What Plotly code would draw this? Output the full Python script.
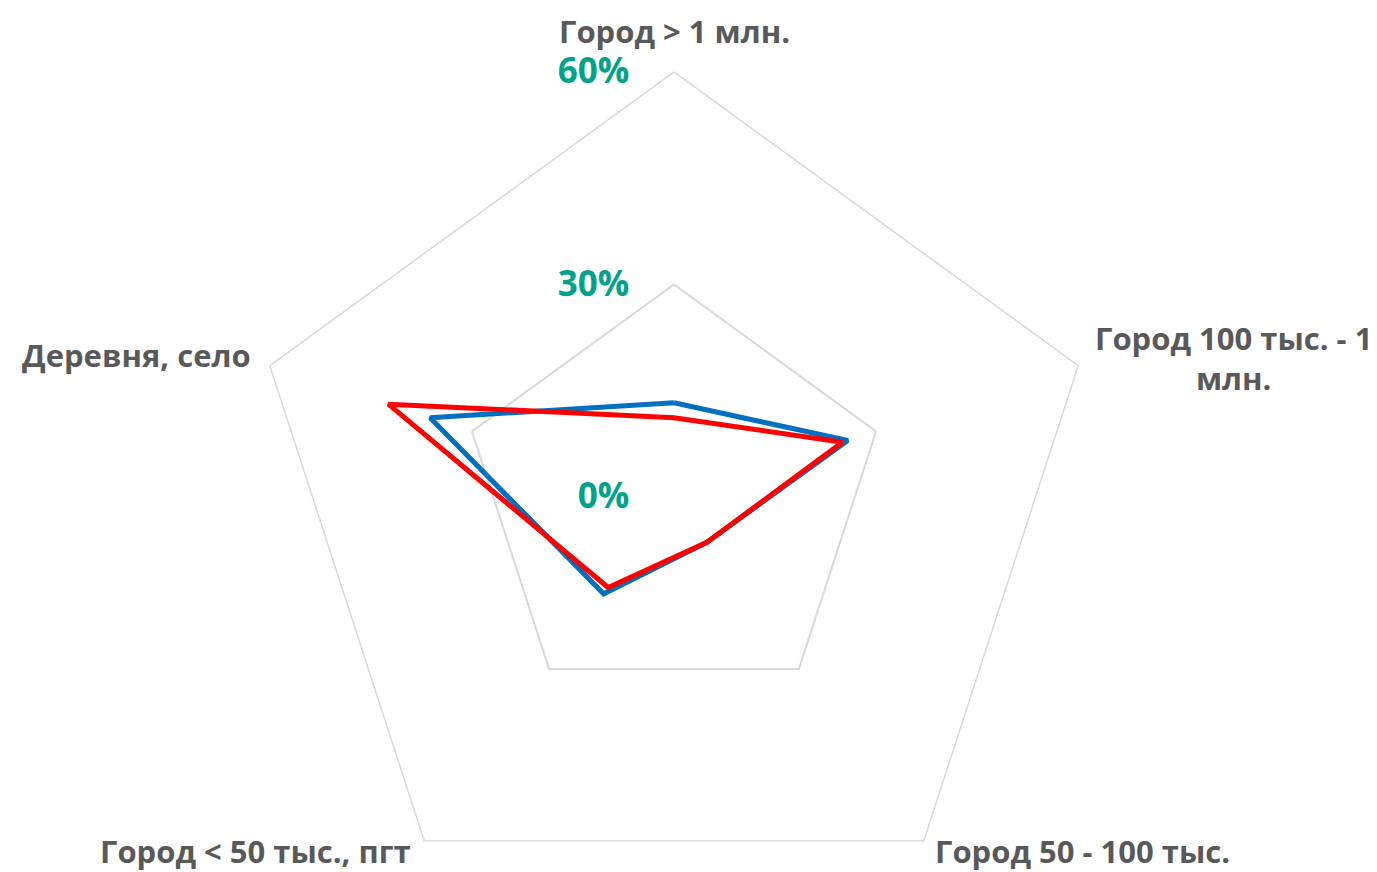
import plotly.graph_objects as go

categories = ["Город > 1 млн.", "Город 100 тыс. - 1 млн.", "Город 50 - 100 тыс.",
              "Город < 50 тыс., пгт", "Деревня, село"]
label_text = ["Город > 1 млн.", "Город 100 тыс. - 1<br>млн.", "Город 50 - 100 тыс.",
              "Город < 50 тыс., пгт", "Деревня, село"]
series_blue = [13.3, 25.8, 7.9, 16.9, 36.2]
series_red = [11.2, 25.0, 7.9, 15.8, 42.4]
tick_vals = [0, 30, 60]
tick_text = ["0%", "30%", "60%"]

# page body has an 8px margin; work in screen pixels and convert
OFF = 8
W, H = 1377, 950
cx, cy, R = 674 - OFF, 497 - OFF, 425


def px(x):
    return (x - OFF) / W


def py(y):
    return (H - (y - OFF)) / H


fig = go.Figure()
for name, vals, color in [("Ряд 1", series_blue, "#0070C0"), ("Ряд 2", series_red, "#FF0000")]:
    fig.add_trace(go.Scatterpolar(
        r=vals + vals[:1], theta=categories + categories[:1], mode="lines",
        name=name, line=dict(color=color, width=5), showlegend=False, hoverinfo="r+theta"))

label_font = dict(family="Open Sans", size=31, color="#595959", weight="bold")
# (x, y, xanchor) of each category label in screen pixels
label_pos = [(674, 31, "center"), (1233, 358, "center"), (933, 851, "left"),
             (413, 851, "right"), (253, 355, "right")]
for txt, (x, y, xa) in zip(label_text, label_pos):
    fig.add_annotation(text=txt, x=px(x), y=py(y), xref="paper", yref="paper",
                       xanchor=xa, yanchor="middle", align="center", showarrow=False,
                       font=label_font)

fig.update_layout(
    width=W, height=H, autosize=False,
    margin=dict(l=0, r=0, t=0, b=0),
    paper_bgcolor="white", plot_bgcolor="white",
    font=dict(family="Open Sans", color="#595959"),
    polar=dict(
        domain=dict(x=[(cx - R) / W, (cx + R) / W], y=[(H - (cy + R)) / H, (H - (cy - R)) / H]),
        bgcolor="white",
        gridshape="linear",
        radialaxis=dict(range=[0, 60], tickvals=tick_vals, ticktext=tick_text, angle=90,
                        tickangle=90, showline=False, showgrid=True, gridcolor="#D9D9D9", gridwidth=1.5,
                        ticks="outside", ticklen=32, tickcolor="rgba(0,0,0,0)", side="counterclockwise",
                        tickfont=dict(family="Open Sans", size=35, color="#00A28A", weight="bold")),
        angularaxis=dict(rotation=90, direction="clockwise", showgrid=False, showline=True,
                         linecolor="#D9D9D9", linewidth=1.5, ticks="", showticklabels=False),
    ),
)
fig.write_html("out.html")
